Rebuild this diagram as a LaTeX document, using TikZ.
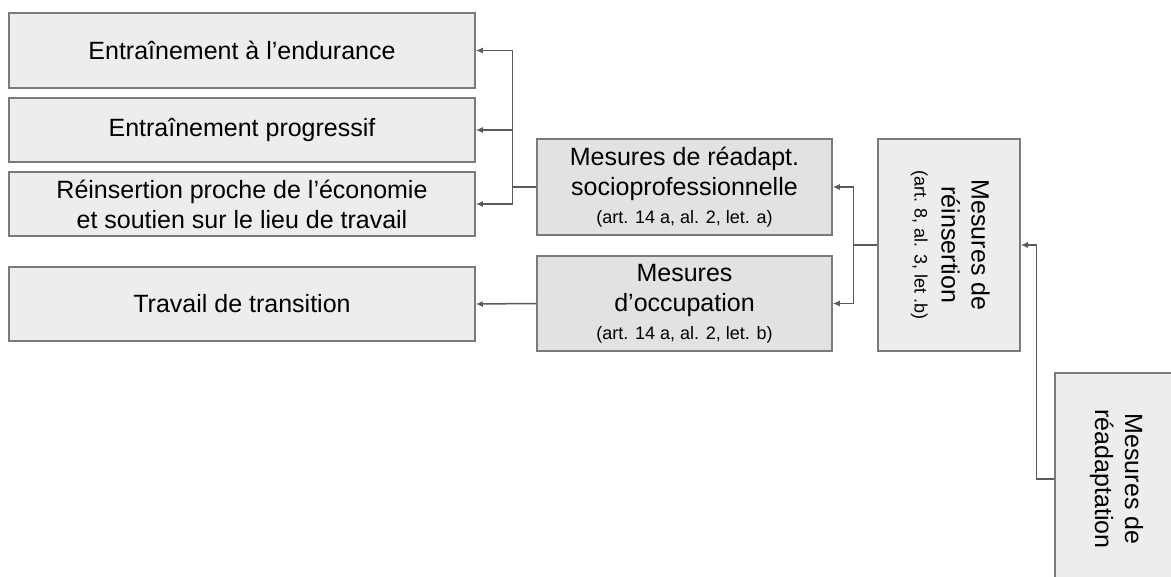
\documentclass[tikz,border=0pt]{standalone}
\usepackage{fontspec}
\setmainfont{Liberation Sans}
\usepackage{xcolor}
\usepackage{tikz}
\usetikzlibrary{
  positioning,
  arrows.meta,
  arrows
}
\definecolor{boxfill}{HTML}{EDEDED}
\definecolor{subfill}{HTML}{E2E2E2}
\definecolor{boxline}{HTML}{7A7A7A}
\definecolor{linkgray}{HTML}{5A5A5A}
\newcommand{\artref}[1]{{\fontsize{18}{22}\selectfont #1}}
\tikzset{
  box/.style={draw=boxline, fill=boxfill, line width=1.5pt, align=center, inner sep=0pt, font=\fontsize{25}{30}\selectfont},
  subbox/.style={box, fill=subfill},
  link/.style={draw=linkgray, line width=1.5pt}
}

\begin{document}
\begin{tikzpicture}[x=1pt,y=-1pt,>={Latex[length=7pt,width=6pt]}]
            \useasboundingbox (0,0) rectangle (1171,577);
            \clip (0,0) rectangle (1171,577);
            % left column
            \node[box, minimum width=466, minimum height=75] (endur) at (242,50.5) {Entraînement à l’endurance};
            \node[box, minimum width=466, minimum height=64] (progr) at (242,130) {Entraînement progressif};
            \node[box, minimum width=466, minimum height=64] (proche) at (242,204) {Réinsertion proche de l’économie\\et soutien sur le lieu de travail};
            \node[box, minimum width=466, minimum height=74] (travail) at (242,304) {Travail de transition};
            % middle column
            \node[subbox, minimum width=295, minimum height=96] (readapt) at (684.5,187) {Mesures de réadapt.\\socioprofessionnelle\\[-2pt]\artref{(art. 14 a, al. 2, let. a)}};
            \node[subbox, minimum width=295, minimum height=95] (occup) at (684.5,303.5) {Mesures\\d’occupation\\[-2pt]\artref{(art. 14 a, al. 2, let. b)}};
            % right column
            \node[box, minimum width=142, minimum height=212] (reins) at (949,245) {\rotatebox{-90}{\begin{tabular}{@{}c@{}}Mesures de\\réinsertion\\[-3pt]\artref{(art. 8, al. 3, let .b)}\end{tabular}}};
            \node[box, minimum width=122, minimum height=212] (readap) at (1116,479) {\rotatebox{-90}{\begin{tabular}{@{}c@{}}Mesures de\\réadaptation\end{tabular}}};
            % connectors
            \draw[link,->] (readapt.west) -- ++(-24,0) |- (endur.east);
            \draw[link,->] (readapt.west) -- ++(-24,0) |- (progr.east);
            \draw[link,->] (readapt.west) -- ++(-24,0) |- (proche.east);
            \draw[link,->] (occup.west) -- (travail.east);
            \draw[link,->] (reins.west) -- ++(-24,0) |- (readapt.east);
            \draw[link,->] (reins.west) -- ++(-24,0) |- (occup.east);
            \draw[link,->] (readap.west) -- ++(-18,0) |- (reins.east);
        \end{tikzpicture}
\end{document}
